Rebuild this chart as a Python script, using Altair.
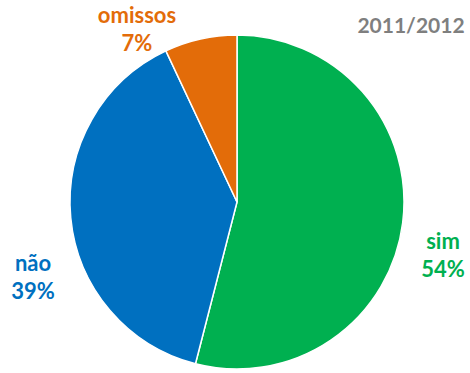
import altair as alt
import pandas as pd

categories = ["sim", "não", "omissos"]
values = [54, 39, 7]
colors = ["#00b050", "#0070c0", "#e36c09"]
year_label = "2011/2012"

df = pd.DataFrame({"cat": categories, "val": values, "ord": list(range(len(categories))),
                   "pct": [f"{v}%" for v in values]})

W, H = 470, 373
cx, cy, R = 237, 202, 167

pie = alt.Chart(df).mark_arc(stroke="white", strokeWidth=1.5).encode(
    theta=alt.Theta("val:Q", stack=True),
    order=alt.Order("ord:Q"),
    color=alt.Color("cat:N", scale=alt.Scale(domain=categories, range=colors), legend=None),
    x=alt.value(cx), y=alt.value(cy), radius=alt.value(R),
)

font = "Lato"
label_pos = {"sim": (443, 249), "não": (33, 271), "omissos": (137, 23)}

layers = [pie]
for c, col in zip(categories, colors):
    lx, ly = label_pos[c]
    sub = alt.Chart(df).transform_filter(alt.datum.cat == c)
    layers.append(sub.mark_text(font=font, fontWeight="bold", fontSize=22, color=col,
                                align="center", baseline="alphabetic").encode(
        text="cat:N", x=alt.value(lx), y=alt.value(ly)))
    layers.append(sub.mark_text(font=font, fontWeight="bold", fontSize=22, color=col,
                                align="center", baseline="alphabetic").encode(
        text="pct:N", x=alt.value(lx), y=alt.value(ly + 28)))

title_df = pd.DataFrame({"t": [year_label]})
layers.append(alt.Chart(title_df).mark_text(font=font, fontWeight="bold", fontSize=21,
                                            color="#7f7f7f", align="center", baseline="alphabetic").encode(
    text="t:N", x=alt.value(411), y=alt.value(33)))

chart = alt.layer(*layers).properties(
    width=W, height=H, autosize=alt.AutoSizeParams(type="none"), padding=0
).configure_view(stroke=None)

chart.save("out.html", embed_options={"renderer": "svg", "actions": False})
